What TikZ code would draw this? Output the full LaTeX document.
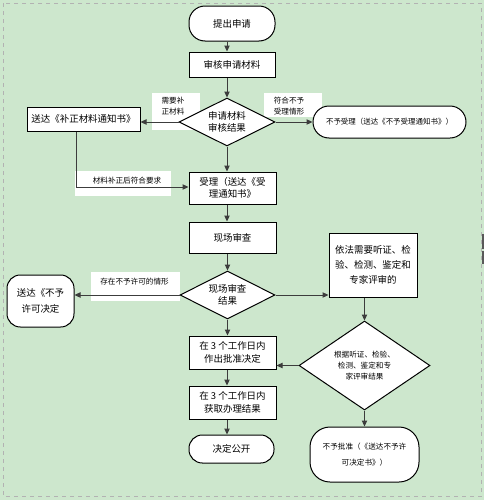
\documentclass[tikz,border=0pt]{standalone}
\usepackage{fontspec}
\newfontfamily\cjk{Noto Sans CJK SC}
\usetikzlibrary{shapes.geometric,arrows.meta}
\definecolor{bggreen}{RGB}{205,231,205}
\definecolor{linegray}{RGB}{60,60,60}
\tikzset{
  box/.style={draw=black,line width=0.75pt,fill=white,align=center,inner sep=1pt,
    font=\cjk\fontsize{7.1}{9.5}\selectfont},
  term/.style={box,rounded corners=9pt},
  dec/.style={draw=black,line width=0.75pt,fill=white,diamond,aspect=2,align=center,inner sep=0pt,
    font=\cjk\fontsize{7.1}{9}\selectfont},
  lblbox/.style={fill=white,inner sep=0pt},
  lbltext/.style={inner sep=0pt,align=left,font=\cjk\fontsize{5.7}{8.2}\selectfont},
  arr/.style={draw=linegray,line width=0.75pt,-{Triangle[length=4.5pt,width=4pt]}},
  plain/.style={draw=linegray,line width=0.75pt}
}
\begin{document}
\begin{tikzpicture}[x=0.75pt,y=-0.75pt]
\useasboundingbox (0,0) rectangle (484,500);
\fill[bggreen] (0,0) rectangle (484,500);
\draw[gray!60,dashed,line width=0.5pt] (3,3) rectangle (481.5,496);
\fill[gray!70!black] (481.5,234) rectangle (484,249);
\fill[gray!70!black] (481.5,251) rectangle (484,264);

% label boxes (behind connectors)
\node[lblbox,minimum width=36pt,minimum height=27.75pt] (lb1) at (176,111.5) {};
\node[lbltext] (lb1t) at (173,106.5) {需要补\\正材料};
\node[lblbox,minimum width=43.5pt,minimum height=18pt] (lb2) at (293,105) {};
\node[lbltext] (lb2t) at (289,106.5) {符合不予\\受理情形};
\node[lblbox,minimum width=72pt,minimum height=18.75pt] (lb3) at (123,183.5) {};
\node[lbltext] (lb3t) at (127,181) {材料补正后符合要求};
\node[lblbox,minimum width=66.75pt,minimum height=21.75pt] (lb4) at (135.5,286.5) {};
\node[lbltext] (lb4t) at (134.5,282) {存在不予许可的情形};

% nodes
\node[term,minimum width=64.5pt,minimum height=26.25pt,rounded corners=12pt] (start) at (232,23.5) {提出申请};
\node[box,minimum width=64.5pt,minimum height=18.75pt] (review) at (232,64.5) {审核申请材料};
\node[dec,minimum width=72pt,minimum height=36pt] (d1) at (227,122) {申请材料\\审核结果};
\node[box,minimum width=84.75pt,minimum height=18pt] (fix) at (83.5,119) {送达《补正材料通知书》};
\node[term,minimum width=114.75pt,minimum height=24pt,rounded corners=12pt,
  font=\cjk\fontsize{5.6}{7}\selectfont] (noacc) at (389.5,122) {不予受理（送达《不予受理通知书》）};
\node[box,minimum width=65.25pt,minimum height=24pt] (accept) at (232.5,188) {受理（送达《受\\理通知书》};
\node[box,minimum width=65.25pt,minimum height=23.25pt] (site) at (232.5,237.5) {现场审查};
\node[dec,minimum width=71.25pt,minimum height=36pt] (d2) at (227.5,295) {现场审查\\结果};
\node[box,minimum width=66pt,minimum height=48pt,font=\cjk\fontsize{7.1}{11.5}\selectfont] (expert) at (373,265) {依法需要听证、检\\验、检测、鉴定和\\专家评审的};
\node[term,minimum width=50.25pt,minimum height=39pt,rounded corners=10pt,font=\cjk\fontsize{7.1}{12}\selectfont] (refuse) at (40.5,301) {送达《不予\\许可决定};
\node[dec,aspect=1.5,minimum width=98.25pt,minimum height=66.75pt,font=\cjk\fontsize{5.7}{8.5}\selectfont] (d3) at (364.5,365.5) {根据听证、检验、\\检测、鉴定和专\\家评审结果};
\node[box,minimum width=65.25pt,minimum height=24.75pt] (approve) at (232.5,352.5) {在 3 个工作日内\\作出批准决定};
\node[box,minimum width=65.25pt,minimum height=24.75pt] (obtain) at (232.5,402.5) {在 3 个工作日内\\获取办理结果};
\node[term,minimum width=63.75pt,minimum height=21pt,rounded corners=10pt] (public) at (231.5,449) {决定公开};
\node[term,minimum width=81.75pt,minimum height=41.25pt,rounded corners=15pt,
  font=\cjk\fontsize{5.7}{12}\selectfont] (deny) at (364.5,454.5) {不予批准（《送达不予许\\可决定书》）};

% connectors
\draw[arr] (start.south -| d1) -- (review.north -| d1);
\draw[arr] (review.south -| d1) -- (d1.north);
\draw[arr] (d1.west) -- (d1.west -| fix.east);
\draw[arr] (d1.east) -- (d1.east -| noacc.west);
\draw[arr] ([xshift=-5.6pt]fix.south) |- ([yshift=0.75pt]accept.west);
\draw[arr] (d1.south) -- (accept.north -| d1);
\draw[arr] (accept.south -| d1) -- (site.north -| d1);
\draw[arr] (site.south -| d2) -- (d2.north);
\draw[arr] (d2.east) -- (d2.east -| expert.west);
\draw[arr] (d2.west) -- (d2.west -| refuse.east);
\draw[arr] (expert.south -| d3) -- (d3.north);
\draw[arr] (d3.west) -- (d3.west -| approve.east);
\draw[arr] (d2.south) -- (approve.north -| d2);
\draw[arr] (approve.south -| d1) -- (obtain.north -| d1);
\draw[arr] (obtain.south -| d1) -- (public.north -| d1);
\draw[arr] (d3.south) -- (deny.north -| d3);
\end{tikzpicture}
\end{document}
